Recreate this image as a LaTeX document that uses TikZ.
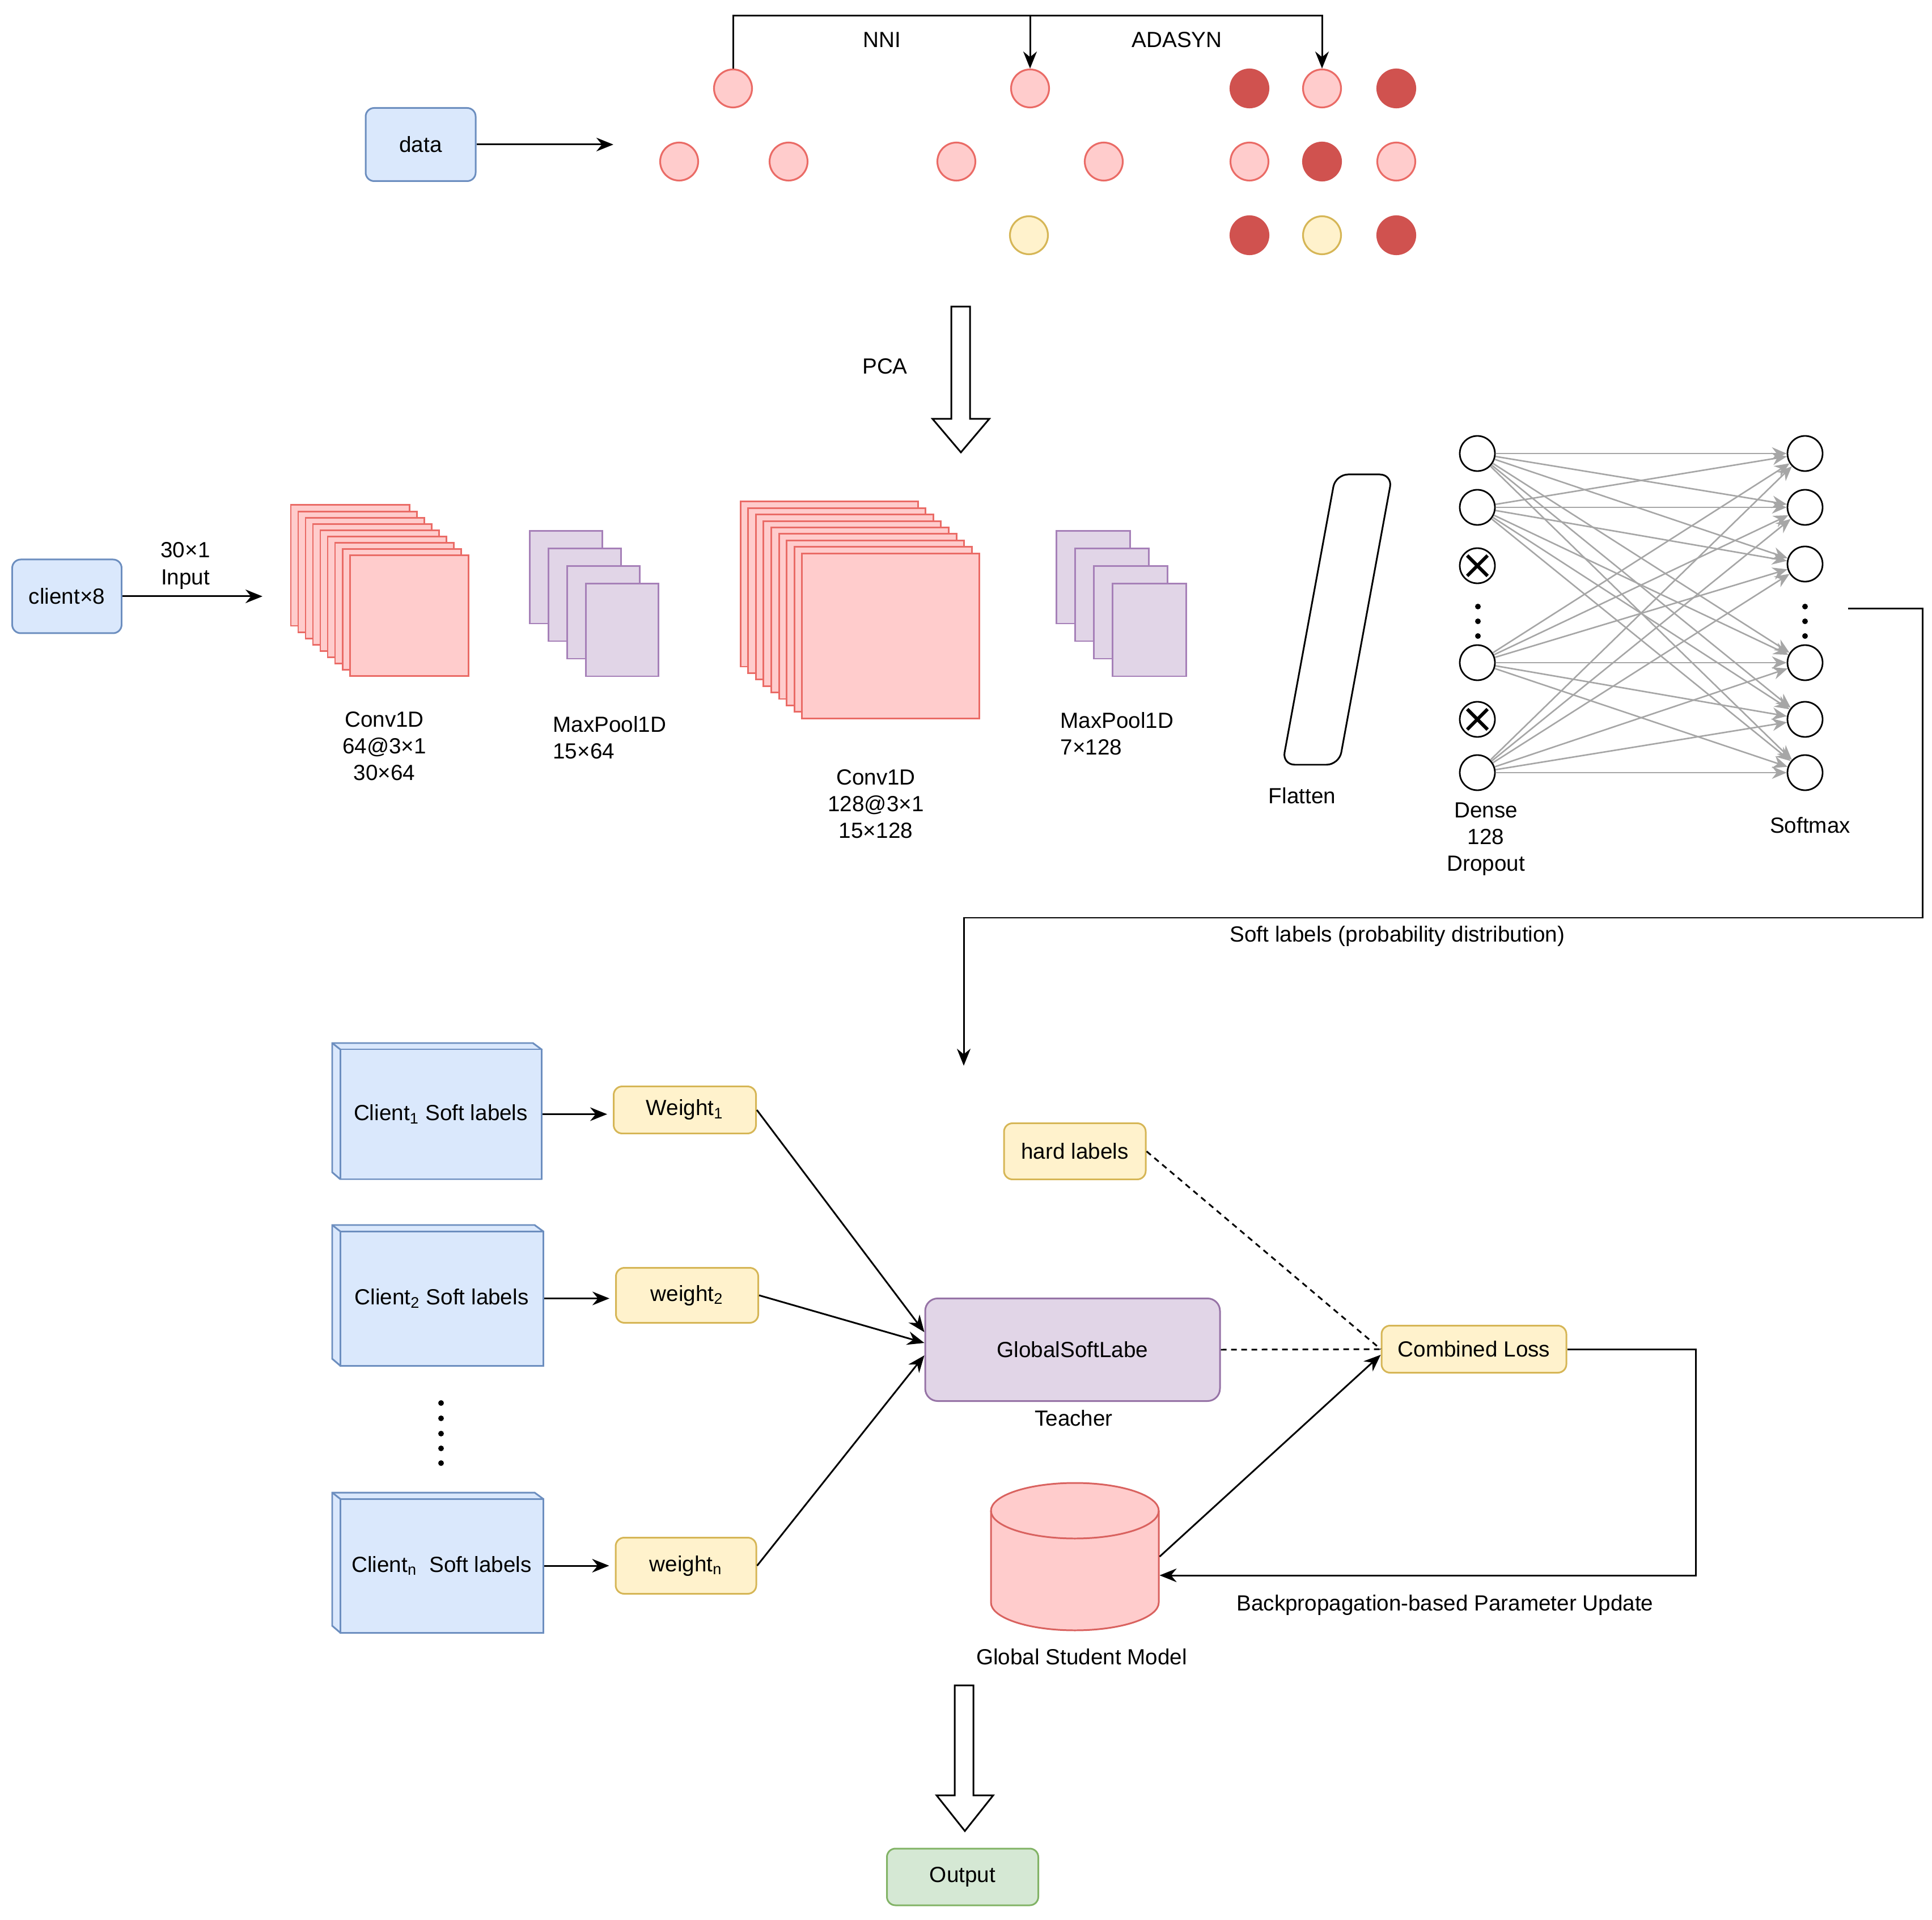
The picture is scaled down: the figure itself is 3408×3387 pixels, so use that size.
\documentclass[tikz,border=0pt]{standalone}
\usepackage{fontspec}
\setmainfont{Liberation Sans}
\usetikzlibrary{arrows.meta,calc}
\definecolor{bluef}{HTML}{DAE8FC}\definecolor{blued}{HTML}{6C8EBF}
\definecolor{redf}{HTML}{FFCCCC}\definecolor{redd}{HTML}{EA6B66}
\definecolor{darkred}{HTML}{D0524F}
\definecolor{yelf}{HTML}{FFF2CC}\definecolor{yeld}{HTML}{D6B656}
\definecolor{purf}{HTML}{E1D5E7}\definecolor{purd}{HTML}{9673A6}\definecolor{purl}{HTML}{A680B8}
\definecolor{greenf}{HTML}{D5E8D4}\definecolor{greend}{HTML}{82B366}
\definecolor{netgray}{HTML}{A6A6A6}
\definecolor{cyld}{HTML}{D9625F}
\begin{document}
\begin{tikzpicture}[x=0.1mm,y=-0.1mm,line width=0.85pt,
  every node/.style={font=\fontsize{11}{13.4}\selectfont},
  >={Stealth[length=3mm,width=2.4mm]},
  box/.style={draw,rounded corners=1.5mm,inner sep=0pt,align=center},
  blueb/.style={box,fill=bluef,draw=blued},
  yelb/.style={box,fill=yelf,draw=yeld},
  purb/.style={box,fill=purf,draw=purd,rounded corners=2.2mm},
  greenb/.style={box,fill=greenf,draw=greend},
  frontb/.style={draw=blued,fill=bluef,inner sep=0pt,align=center},
  samp/.style={circle,draw=redd,fill=redf,minimum size=6.7mm,inner sep=0pt,line width=0.9pt},
  dk/.style={samp,draw=darkred,fill=darkred},
  yl/.style={samp,draw=yeld,fill=yelf},
  neuron/.style={circle,draw,minimum size=6.2mm,inner sep=0pt,line width=0.8pt},
  lbl/.style={align=center,inner sep=0pt},
  lbll/.style={align=left,inner sep=0pt},
  convst/.style={draw=redd,fill=redf},
  poolst/.style={draw=purl,fill=purf},
  netline/.style={draw=netgray,line width=0.75pt,-{Stealth[length=2.6mm,width=2.2mm]}},
  dashln/.style={dash pattern=on 1mm off 0.8mm},
  ndot/.style={circle,fill,inner sep=0pt,minimum size=1mm}]
\useasboundingbox (0,0) rectangle (3408,3387);

% ---------------- top: data augmentation ----------------
\node[blueb,minimum width=19.4mm,minimum height=12.9mm] (data) at (742,255) {data};
\coordinate (dataend) at (1082,255);
\draw[->] (data) -- (dataend);

\node[samp] (a1) at (1293,156) {};
\node[samp] (a2) at (1817,156) {};
\node[dk]   (a3) at (2204,156) {};
\node[samp] (a4) at (2332,156) {};
\node[dk]   (a5) at (2463,156) {};
\node[samp] (b1) at (1198,285) {};
\node[samp] (b2) at (1391,285) {};
\node[samp] (b3) at (1687,285) {};
\node[samp] (b4) at (1947,285) {};
\node[samp] (b5) at (2204,285) {};
\node[dk]   (b6) at (2332,285) {};
\node[samp] (b7) at (2463,285) {};
\node[yl]   (c1) at (1815,415) {};
\node[dk]   (c2) at (2204,415) {};
\node[yl]   (c3) at (2332,415) {};
\node[dk]   (c4) at (2463,415) {};

\coordinate (brmid) at (1817,28);
\draw[->] (a1.north) |- (brmid) -| (a4.north);
\draw[->] (brmid) -- (a2.north);
\node[lbl] (nni) at (1556,70) {NNI};
\node[lbl] (adasyn) at (2076,70) {ADASYN};

% PCA hollow arrow
\draw[fill=white] (1678,541) -- (1711,541) -- (1711,739) -- (1745,739) -- (1695,798) -- (1645,739) -- (1678,739) -- cycle;
\node[lbl] (pca) at (1561,646) {PCA};

% ---------------- middle: CNN ----------------
\node[blueb,minimum width=19.3mm,minimum height=13mm] (client) at (118,1052) {client×8};
\coordinate (inend) at (463,1052);
\draw[->] (client) -- (inend);
\node[lbl] (inlbl) at (327,998) {30×1\\Input};

\foreach \i in {0,...,8} \draw[convst] ({513+13*\i},{891+11.1*\i}) rectangle ++(209,213);
\node[lbl] (conv1) at (678,1316) {Conv1D\\64@3×1\\30×64};

\foreach \i in {0,...,3} \draw[poolst] ({934+33*\i},{937+31*\i}) rectangle ++(128,163);
\node[lbll,anchor=west] (pool1) at (974,1301) {MaxPool1D\\15×64};

\foreach \i in {0,...,8} \draw[convst] ({1306+13.6*\i},{885+11.4*\i}) rectangle ++(313,291);
\node[lbl] (conv2) at (1545,1418) {Conv1D\\128@3×1\\15×128};

\foreach \i in {0,...,3} \draw[poolst] ({1863+33*\i},{937+31*\i}) rectangle ++(130,163);
\node[lbll,anchor=west] (pool2) at (1869,1294) {MaxPool1D\\7×128};

% flatten
\draw[rounded corners=2.2mm] (2356,837) -- (2456,837) -- (2362,1349) -- (2262,1349) -- cycle;
\node[lbl] (flat) at (2297,1404) {Flatten};

% dense / softmax
\node[neuron] (d1) at (2606,800) {};
\node[neuron] (d2) at (2606,895) {};
\node[neuron] (x1) at (2606,998) {};
\node[neuron] (d3) at (2606,1169) {};
\node[neuron] (x2) at (2606,1269) {};
\node[neuron] (d4) at (2606,1363) {};
\foreach \n in {x1,x2}{
  \draw[line width=1.7pt] ($(\n)+(-18,-18)$) -- ($(\n)+(18,18)$);
  \draw[line width=1.7pt] ($(\n)+(-18,18)$) -- ($(\n)+(18,-18)$);
}
\node[neuron] (s1) at (3184,800) {};
\node[neuron] (s2) at (3184,895) {};
\node[neuron] (s3) at (3184,995) {};
\node[neuron] (s4) at (3184,1169) {};
\node[neuron] (s5) at (3184,1269) {};
\node[neuron] (s6) at (3184,1363) {};
\foreach \y [count=\k] in {1070,1096,1122}{
  \node[ndot] (dd\k) at (2607,\y) {};
  \node[ndot] (sd\k) at (3184,\y) {};
}
\foreach \a in {d1,d2,d3,d4}{\foreach \b in {s1,s2,s3,s4,s5,s6}{\draw[netline] (\a) -- (\b);}}
\node[lbl] (dense) at (2621,1480) {Dense\\128\\Dropout};
\node[lbl] (soft) at (3193,1456) {Softmax};

% soft labels connector
\coordinate (slstart) at (3260,1074);
\coordinate (slcorner) at (3391,1619);
\coordinate (slend) at (1700,1880);
\draw[->] (slstart) -| (slcorner) -| (slend);
\node[lbl] (sllbl) at (2465,1652) {Soft labels (probability distribution)};

% ---------------- bottom: distillation ----------------
\filldraw[draw=blued,fill=bluef] (586,1840) -- (940,1840) -- (955,1851) -- (955,2080) -- (600,2080) -- (586,2068) -- cycle;
\draw[blued] (586,1840) -- (600,1851);
\node[frontb,minimum width=35.5mm,minimum height=22.9mm] (cl1) at (777.5,1965.5) {Client\textsubscript{1} Soft labels};
\filldraw[draw=blued,fill=bluef] (586,2161) -- (943,2161) -- (958,2172) -- (958,2409) -- (600,2409) -- (586,2397) -- cycle;
\draw[blued] (586,2161) -- (600,2172);
\node[frontb,minimum width=35.8mm,minimum height=23.7mm] (cl2) at (779,2290.5) {Client\textsubscript{2} Soft labels};
\filldraw[draw=blued,fill=bluef] (586,2633) -- (943,2633) -- (958,2644) -- (958,2880) -- (600,2880) -- (586,2868) -- cycle;
\draw[blued] (586,2633) -- (600,2644);
\node[frontb,minimum width=35.8mm,minimum height=23.6mm] (cln) at (779,2762) {Client\textsubscript{n}\ \ Soft labels};

\foreach \y [count=\k] in {2475,2502,2529,2555,2581}{\node[ndot] (vd\k) at (778,\y) {};}

\node[yelb,minimum width=25.1mm,minimum height=8.3mm] (w1) at (1208,1958) {Weight\textsubscript{1}};
\node[yelb,minimum width=25.1mm,minimum height=9.7mm] (w2) at (1212,2285) {weight\textsubscript{2}};
\node[yelb,minimum width=24.8mm,minimum height=9.9mm] (wn) at (1210,2762) {weight\textsubscript{n}};

\draw[->,shorten >=1mm] (cl1.east) -- (cl1.east -| w1.west);
\draw[->,shorten >=1mm] (cl2.east) -- (cl2.east -| w2.west);
\draw[->,shorten >=1mm] (cln.east) -- (cln.east -| wn.west);

\node[purb,minimum width=52mm,minimum height=18.1mm] (gsl) at (1892,2381) {GlobalSoftLabe};
\node[lbl] (teacher) at (1894,2502) {Teacher};

\draw[->] (w1.east) -- ($(gsl.west)+(0,-31)$);
\draw[->] (w2.east) -- ($(gsl.west)+(0,-12)$);
\draw[->] (wn.east) -- ($(gsl.west)+(0,10)$);

\node[yelb,minimum width=25mm,minimum height=9.9mm] (hl) at (1896,2031) {hard labels};
\node[yelb,minimum width=32.6mm,minimum height=8.3mm] (loss) at (2600,2380) {Combined Loss};

\draw[dashln] (hl.east) -- (loss.west);
\draw[dashln] (gsl.east) -- (loss.west);

% cylinder
\filldraw[draw=cyld,fill=redf] (1748,2665) -- (1748,2827) arc[start angle=180,end angle=360,x radius=14.8mm,y radius=4.9mm] -- (2044,2665) arc[start angle=0,end angle=180,x radius=14.8mm,y radius=4.9mm] -- cycle;
\draw[cyld] (1748,2665) arc[start angle=180,end angle=360,x radius=14.8mm,y radius=4.9mm];
\node[minimum width=29.6mm,minimum height=26mm,inner sep=0pt] (student) at (1896,2746) {};
\node[lbl] (studlbl) at (1908,2923) {Global Student Model};

\draw[->] (student.east) -- ($(loss.west)+(0,10)$);
\coordinate (fb) at (2991,2779);
\draw[->] (loss.east) -| (fb) -- (student.east |- fb);
\node[lbl] (bplbl) at (2549,2831) {Backpropagation-based Parameter Update};

% output arrow
\draw[fill=white] (1684,2973) -- (1717,2973) -- (1717,3167) -- (1752,3167) -- (1702,3230) -- (1652,3167) -- (1684,3167) -- cycle;
\node[greenb,minimum width=26.7mm,minimum height=10mm] (out) at (1698,3311) {Output};
\end{tikzpicture}
\end{document}
